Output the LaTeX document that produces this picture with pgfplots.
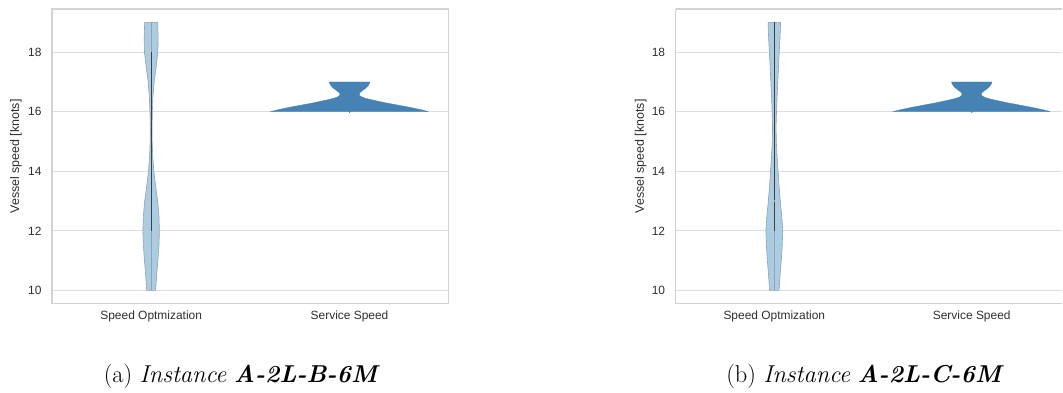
\documentclass[border=0pt]{standalone}
\usepackage{pgfplots}
\pgfplotsset{compat=1.18}
\usepackage{pgfplotstable}
\usepackage{fontspec}
\newfontfamily\arial{Liberation Sans}
\definecolor{vlight}{HTML}{ABCCE1}
\definecolor{vdark}{HTML}{4682B4}
\definecolor{vedge}{HTML}{8EA4B4}
\definecolor{gridc}{HTML}{DDDDDD}
\definecolor{framec}{HTML}{D2D2D2}
\definecolor{txt}{HTML}{2E2E2E}

% violin outline of "Speed Optmization", instance a (x offset from category, y)
\pgfplotstableread{
x y
0.0226 10
0.0276 10.5
0.0337 11
0.0392 11.5
0.0417 12
0.0392 12.5
0.0327 13
0.0226 13.5
0.0136 14
0.0080 14.5
0.0050 15
0.0045 15.5
0.0060 16
0.0090 16.5
0.0151 17
0.0251 17.5
0.0337 18
0.0352 18.5
0.0327 19
-0.0327 19
-0.0352 18.5
-0.0337 18
-0.0251 17.5
-0.0151 17
-0.0090 16.5
-0.0060 16
-0.0045 15.5
-0.0050 15
-0.0080 14.5
-0.0136 14
-0.0226 13.5
-0.0327 13
-0.0392 12.5
-0.0417 12
-0.0392 11.5
-0.0337 11
-0.0276 10.5
-0.0226 10
0.0226 10
}\violinA
% instance b
\pgfplotstableread{
x y
0.0241 10
0.0291 10.5
0.0352 11
0.0402 11.5
0.0427 12
0.0377 12.5
0.0302 13
0.0241 13.5
0.0191 14
0.0141 14.5
0.0101 15
0.0090 15.5
0.0111 16
0.0141 16.5
0.0176 17
0.0211 17.5
0.0251 18
0.0291 18.5
0.0317 19
-0.0317 19
-0.0291 18.5
-0.0251 18
-0.0211 17.5
-0.0176 17
-0.0141 16.5
-0.0111 16
-0.0090 15.5
-0.0101 15
-0.0141 14.5
-0.0191 14
-0.0241 13.5
-0.0302 13
-0.0377 12.5
-0.0427 12
-0.0402 11.5
-0.0352 11
-0.0291 10.5
-0.0241 10
0.0241 10
}\violinB
% "Service Speed" violin outline
\pgfplotstableread{
x y
0.397 16.00
0.372 16.05
0.337 16.10
0.302 16.15
0.261 16.20
0.221 16.25
0.181 16.30
0.146 16.35
0.111 16.40
0.080 16.45
0.060 16.50
0.050 16.55
0.049 16.60
0.053 16.65
0.063 16.70
0.073 16.75
0.083 16.80
0.090 16.85
0.096 16.90
0.100 16.95
0.102 17.00
-0.102 17.00
-0.100 16.95
-0.096 16.90
-0.090 16.85
-0.083 16.80
-0.073 16.75
-0.063 16.70
-0.053 16.65
-0.049 16.60
-0.050 16.55
-0.060 16.50
-0.080 16.45
-0.111 16.40
-0.146 16.35
-0.181 16.30
-0.221 16.25
-0.261 16.20
-0.302 16.15
-0.337 16.10
-0.372 16.05
-0.397 16.00
0.397 16.00
}\violinS

\pgfplotsset{
  vstyle/.style={
    scale only axis,
    height=295bp,
    xmin=-0.5,
    ymin=9.55, ymax=19.45,
    xtick={0,1},
    xticklabels={Speed Optmization, Service Speed},
    ytick={10,12,14,16,18},
    ymajorgrids,
    grid style={gridc, line width=1.2bp},
    axis line style={framec, line width=1.2bp},
    major tick length=0pt,
    /pgf/number format/assume math mode=true,
    ticklabel style={font=\arial\fontsize{12}{14}\selectfont, text=txt},
    xticklabel style={yshift=-4bp},
    yticklabel style={xshift=-7bp},
    every axis y label/.style={at={(axis description cs:-0.0907,0.5)}, anchor=center, rotate=90, font=\arial\fontsize{12.5}{15}\selectfont, text=txt},
    ylabel={Vessel speed [knots]},
  }
}

\begin{document}
\begin{tikzpicture}

\begin{axis}[vstyle, at={(52bp,86bp)}, anchor=south west, width=397bp, xmax=1.5]
  \addplot[fill=vlight, draw=vedge, line width=0.6bp] table[x expr=0+\thisrow{x}, y=y] {\violinA};
  \addplot[vedge, line width=1bp] coordinates {(0,10) (0,19)};
  \addplot[black!75, line width=1.1bp] coordinates {(0,12) (0,18)};
  \addplot[fill=vdark, draw=vdark, line width=0.4bp] table[x expr=1+\thisrow{x}, y=y] {\violinS};
  \addplot[only marks, mark=*, mark size=0.8bp, black!55] coordinates {(1,16)};
\end{axis}

\begin{axis}[vstyle, at={(676bp,86bp)}, anchor=south west, width=387bp, xmax=1.4595,
  axis y line*=left, y axis line style={-}]
  \addplot[fill=vlight, draw=vedge, line width=0.6bp] table[x expr=0+\thisrow{x}, y=y] {\violinB};
  \addplot[vedge, line width=1bp] coordinates {(0,10) (0,19)};
  \addplot[black!75, line width=1.1bp] coordinates {(0,12) (0,19)};
  \addplot[only marks, mark=*, mark size=0.8bp, gray!60] coordinates {(0,13)};
  \addplot[fill=vdark, draw=vdark, line width=0.4bp] table[x expr=1+\thisrow{x}, y=y] {\violinS};
  \addplot[only marks, mark=*, mark size=0.8bp, black!55] coordinates {(1,16)};
\end{axis}

\node[font=\fontsize{24.5}{29}\selectfont, anchor=base] at (242bp,7bp) {(a) \textit{Instance} \textbf{\textit{A-2L-B-6M}}};
\node[font=\fontsize{24.5}{29}\selectfont, anchor=base] at (865.5bp,7bp) {(b) \textit{Instance} \textbf{\textit{A-2L-C-6M}}};
\path (0,0) rectangle (1063bp,390bp);
\end{tikzpicture}
\end{document}
